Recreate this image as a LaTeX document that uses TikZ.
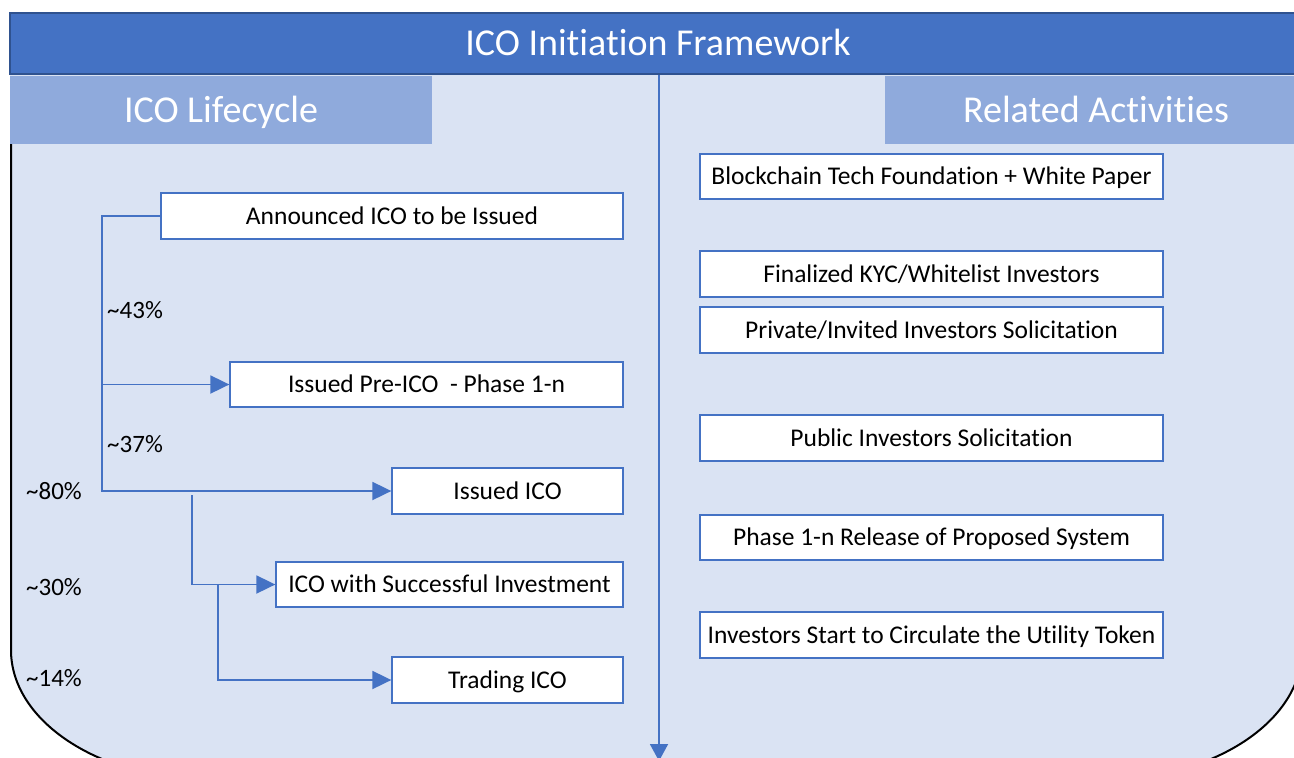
\documentclass[tikz,border=0pt]{standalone}
\usepackage{fontspec}
\setmainfont{Carlito}[Ligatures=NoCommon]
\usetikzlibrary{arrows.meta}
\definecolor{barblue}{HTML}{4472C4}
\definecolor{bardark}{HTML}{2F528F}
\definecolor{hdrblue}{HTML}{8FAADC}
\definecolor{bgblue}{HTML}{DAE3F3}
\begin{document}
\begin{tikzpicture}[x=1pt,y=-1pt,
  stagebox/.style={draw=barblue, line width=1.3pt, fill=white, inner sep=0pt,
    font=\fontsize{25.5}{28}\selectfont, text height=16.4pt, text depth=0pt},
  actbox/.style={stagebox, minimum width=463pt},
  flow/.style={draw=barblue, line width=1.9pt, -{Triangle[length=19pt,width=18pt]}},
  pct/.style={anchor=west, inner sep=0pt, font=\fontsize{25}{28}\selectfont,
    text height=16.1pt, text depth=0pt},
  hdr/.style={fill=hdrblue, inner sep=0pt, text=white, minimum width=422pt,
    minimum height=68pt, font=\fontsize{38}{44}\selectfont, text height=24.5pt, text depth=0pt},
]
\useasboundingbox (0,0) rectangle (1294,758);
\fill[white] (0,0) rectangle (1294,758);
\clip (0,0) rectangle (1294,758);

% background panel
\fill[bgblue] (10,75) -- (10,650) arc[start angle=180, end angle=90, x radius=201, y radius=130]
  -- (1102,780) arc[start angle=90, end angle=0, x radius=200, y radius=130] -- (1306,75) -- cycle;
\draw[black, line width=2pt] (11,143) -- (11,650) arc[start angle=180, end angle=90, x radius=200, y radius=130]
  -- (1102,780) arc[start angle=90, end angle=0, x radius=200, y radius=130] -- (1302,143);

% headers
\node[hdr] (hl) at (221,110) {ICO Lifecycle};
\node[hdr] (hr) at (1096,110) {Related Activities};

% top bar
\node[fill=barblue, draw=bardark, line width=1.5pt, inner sep=0pt, minimum width=1296pt,
  minimum height=61pt, text=white, font=\fontsize{38}{44}\selectfont, text height=24.5pt,
  text depth=0pt] (title) at (658,43.5) {ICO Initiation Framework};

% main timeline arrow
\coordinate (tbot) at (659,75);
\coordinate (tend) at (659,761);
\draw[draw=barblue, line width=1.9pt, -{Triangle[length=17pt,width=18pt]}] (tbot) -- (tend);

% lifecycle boxes
\node[stagebox, minimum width=462pt, minimum height=46pt] (a1) at (392,216) {Announced ICO to be Issued};
\node[stagebox, minimum width=393pt, minimum height=45pt] (a2) at (426.5,384.5) {Issued Pre-ICO\ \ - Phase 1-n};
\node[stagebox, minimum width=231pt, minimum height=46pt] (a3) at (507.5,491) {Issued ICO};
\node[stagebox, minimum width=347pt, minimum height=45pt] (a4) at (449.5,584.5) {ICO with Successful Investment};
\node[stagebox, minimum width=231pt, minimum height=46pt] (a5) at (507.5,680) {Trading ICO};

% related activity boxes
\node[actbox, minimum height=45pt] (r1) at (931.5,176.5) {Blockchain Tech Foundation + White Paper};
\node[actbox, minimum height=46pt] (r2) at (931.5,274) {Finalized KYC/Whitelist Investors};
\node[actbox, minimum height=46pt] (r3) at (931.5,330) {Private/Invited Investors Solicitation};
\node[actbox, minimum height=46pt] (r4) at (931.5,438) {Public Investors Solicitation};
\node[actbox, minimum height=45pt] (r5) at (931.5,537.5) {Phase 1-n Release of Proposed System};
\node[actbox, minimum height=46pt] (r6) at (931.5,635) {Investors Start to Circulate the Utility Token};

% connectors
\coordinate (v1) at (102,491);
\coordinate (j2) at (102,384.5);
\coordinate (j3) at (192,495);
\coordinate (j4) at (218,584.5);
\draw[flow] (a1.west) -| (v1) -- (a3.west);
\draw[flow] (j2) -- (a2.west);
\draw[flow] (j3) |- (a4.west);
\draw[flow] (j4) |- (a5.west);

% percentages
\node[pct] (p43) at (107,310) {\textasciitilde 43\%};
\node[pct] (p37) at (107,444) {\textasciitilde 37\%};
\node[pct] (p80) at (26,491) {\textasciitilde 80\%};
\node[pct] (p30) at (26,587) {\textasciitilde 30\%};
\node[pct] (p14) at (26,678) {\textasciitilde 14\%};
\end{tikzpicture}
\end{document}
